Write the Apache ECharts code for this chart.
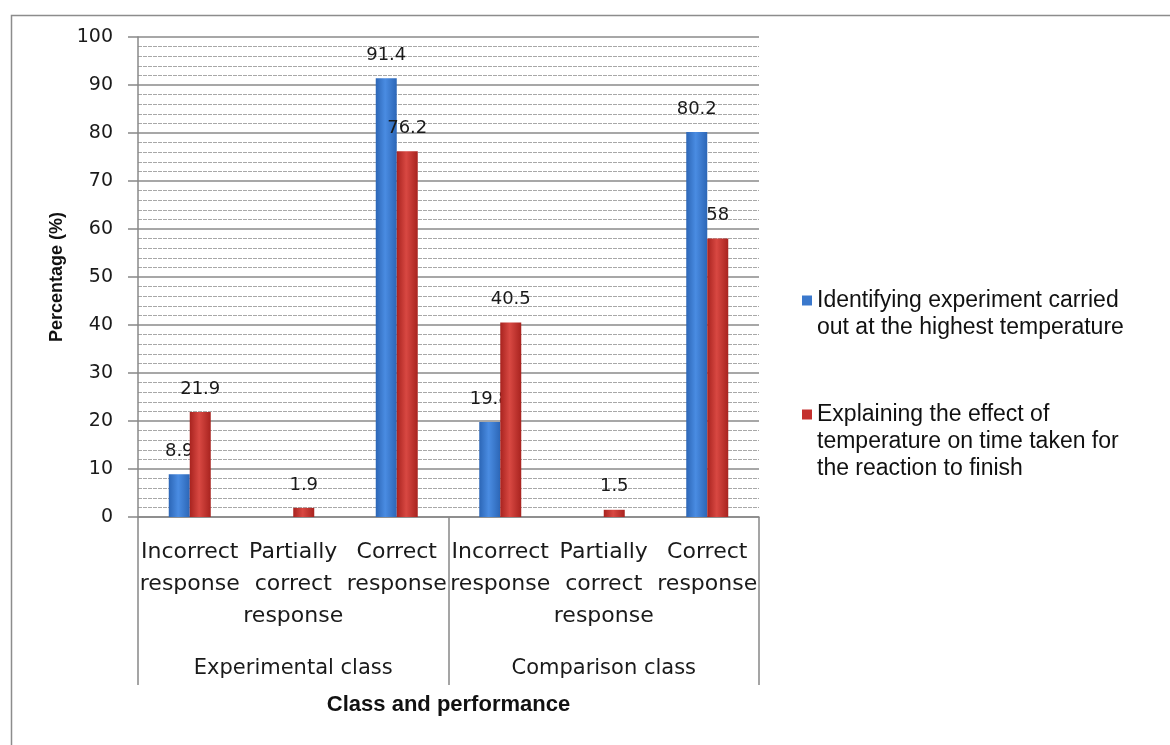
<!DOCTYPE html>
<html>
<head>
<meta charset="utf-8">
<script src="https://cdn.jsdelivr.net/npm/echarts@6/dist/echarts.min.js"></script>
<style>
html,body{margin:0;padding:0;background:#fff;}
#chart{width:1170px;height:745px;}
</style>
</head>
<body>
<div id="chart"></div>
<script>
// ---- data ----
var categories = ['Incorrect\nresponse', 'Partially\ncorrect\nresponse', 'Correct\nresponse',
                  'Incorrect\nresponse', 'Partially\ncorrect\nresponse', 'Correct\nresponse'];
var groups = ['Experimental class', 'Comparison class'];
var seriesNames = ['Identifying experiment carried\nout at the highest temperature',
                   'Explaining the effect of\ntemperature on time taken for\nthe reaction to finish'];
var identifying = [8.9, null, 91.4, 19.8, null, 80.2];
var explaining = [21.9, 1.9, 76.2, 40.5, 1.5, 58];
var yTicks = [0, 10, 20, 30, 40, 50, 60, 70, 80, 90, 100];

var BLUE = '#3a78cc', RED = '#c4302e';
function grad(dark, light) {
  return new echarts.graphic.LinearGradient(0, 0, 1, 0, [
    {offset: 0, color: dark}, {offset: 0.45, color: light}, {offset: 1, color: dark}
  ]);
}
var FONT = 'DejaVu Sans';
var chart = echarts.init(document.getElementById('chart'), null, {renderer: 'canvas'});
var labelStyle = {show: true, position: 'top', distance: 14, fontFamily: FONT, fontSize: 18, color: '#1a1a1a'};

chart.setOption({
  backgroundColor: '#fff',
  animation: false,
  graphic: [{
    type: 'rect', left: 9, top: 13, shape: {x: 0, y: 0, width: 1200, height: 800},
    style: {fill: 'none', stroke: '#8c8c8c', lineWidth: 1.5}, silent: true, z: -10
  }],
  grid: {left: 138, right: 411, top: 37, bottom: 228, containLabel: false},
  legend: [{
    orient: 'vertical', left: 802, top: 287, padding: 0,
    itemWidth: 10, itemHeight: 37, itemGap: 0,
    textStyle: {fontFamily: 'Liberation Sans', fontSize: 23, lineHeight: 27, color: '#111'},
    data: [{name: seriesNames[0], icon: 'path://M0,0L10,0L10,10L0,10Z M0,37L0,37', itemStyle: {color: BLUE}}]
  }, {
    orient: 'vertical', left: 802, top: 401, padding: 0,
    itemWidth: 10, itemHeight: 64, itemGap: 0,
    textStyle: {fontFamily: 'Liberation Sans', fontSize: 23, lineHeight: 27, color: '#111'},
    data: [{name: seriesNames[1], icon: 'path://M0,0L10,0L10,10L0,10Z M0,64L0,64', itemStyle: {color: RED}}]
  }],
  xAxis: [{
    type: 'category', data: categories, position: 'bottom',
    axisLine: {show: true, lineStyle: {color: '#888', width: 1.5}},
    axisTick: {show: false},
    axisLabel: {interval: 0, margin: 19, fontFamily: FONT, fontSize: 22, lineHeight: 32, color: '#1a1a1a'},
    splitLine: {show: false}
  }, {
    type: 'category', data: groups, position: 'bottom',
    axisLine: {show: false},
    axisTick: {show: true, interval: 0, length: 168, lineStyle: {color: '#888', width: 1.5}},
    axisLabel: {interval: 0, margin: 141, fontFamily: FONT, fontSize: 21, color: '#1a1a1a'},
    name: 'Class and performance', nameLocation: 'middle', nameGap: 177,
    nameTextStyle: {fontFamily: 'Liberation Sans', fontWeight: 'bold', fontSize: 22, color: '#111'},
    splitLine: {show: false}
  }],
  yAxis: {
    type: 'value', min: yTicks[0], max: yTicks[yTicks.length - 1], interval: 10,
    name: 'Percentage (%)', nameLocation: 'middle', nameGap: 72,
    nameTextStyle: {fontFamily: 'Liberation Sans', fontWeight: 'bold', fontSize: 18, color: '#111'},
    axisLine: {show: true, lineStyle: {color: '#888', width: 1.5}},
    axisTick: {show: true, inside: false, length: 10, lineStyle: {color: '#888', width: 1.5}},
    axisLabel: {margin: 25, fontFamily: FONT, fontSize: 19, color: '#1a1a1a'},
    splitLine: {show: true, lineStyle: {color: '#8a8a8a', width: 1.5}},
    minorTick: {show: false, splitNumber: 5},
    minorSplitLine: {show: true, lineStyle: {color: '#a8a8a8', width: 1, type: [4, 1]}}
  },
  series: [{
    name: seriesNames[0], type: 'bar', xAxisIndex: 0, data: identifying,
    barWidth: 21, barGap: '0%',
    itemStyle: {color: grad('#2c66b6', '#4a8ce2')},
    label: labelStyle, z: 2
  }, {
    name: seriesNames[1], type: 'bar', xAxisIndex: 0, data: explaining,
    barWidth: 21, barGap: '0%',
    itemStyle: {color: grad('#a8231f', '#d84842')},
    label: labelStyle, z: 3
  }]
});
</script>
</body>
</html>
